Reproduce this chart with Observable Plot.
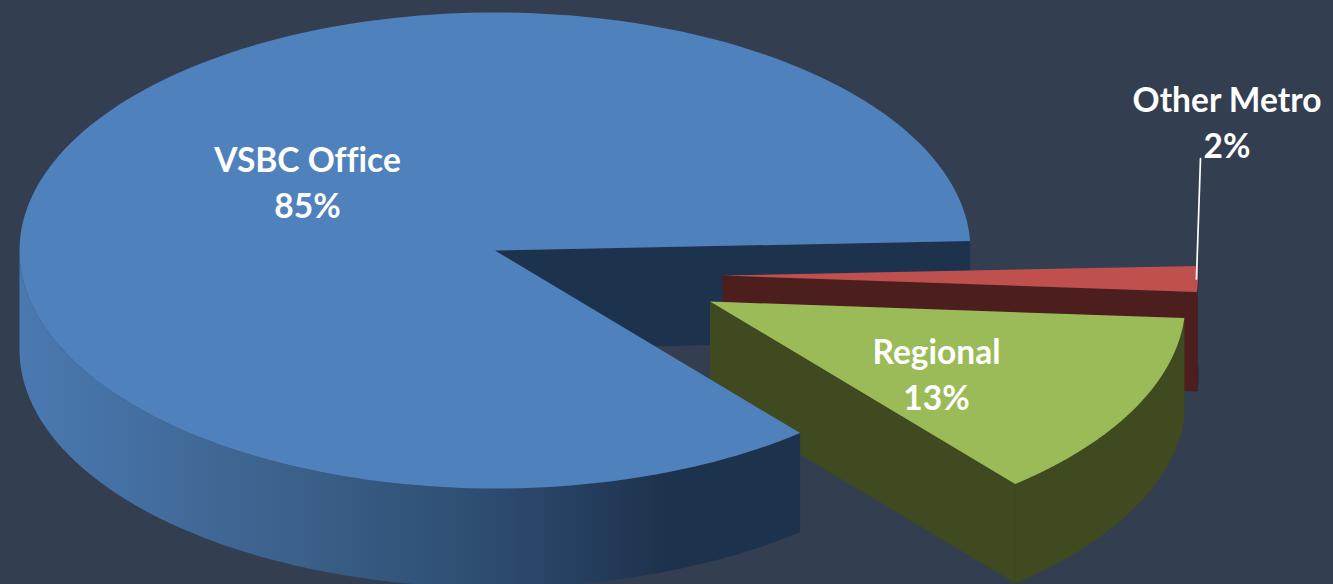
<!DOCTYPE html>
<html>
<head>
<meta charset="utf-8">
<script src="https://cdn.jsdelivr.net/npm/d3@7"></script>
<script src="https://cdn.jsdelivr.net/npm/@observablehq/plot@0.6"></script>
<style>
html,body{margin:0;padding:0;background:#333e50;overflow:hidden}
svg{display:block}
svg text{font-variant-ligatures:none}
</style>
</head>
<body>
<div id="chart"></div>
<script>
// Chart values, in drawing order clockwise from the leader slice
const categories = ["Other Metro", "Regional", "VSBC Office"];
const shares = [1.75, 12.8, 85.45];
const topColors = ["#c0504d", "#9bbb59", "#4f81bd"];
const wallColors = ["#4d1e1e", "#3f4a20", "#1d324d"];

// Scene layout of the tilted pie
const W = 1333, H = 584;
const rx = 475.5, ry = 238, depth = 99;
const startAngle = -2.3;
const centers = [[722, 275], [709.5, 301], [494.5, 250]];
const labelPlace = [[1226.5, 120], [936, 372], [307, 180]];

const angles = [];
{
  let a = startAngle;
  for (const s of shares) { angles.push([a, a + s * 3.6]); a += s * 3.6; }
}
const rad = d => d * Math.PI / 180;
const rim = (c, deg, drop = 0) => ({x: c[0] + rx * Math.cos(rad(deg)), y: c[1] + ry * Math.sin(rad(deg)) + drop});
const arc = (c, a0, a1, drop = 0) => d3.range(0, 1.0001, 1 / 200).map(t => rim(c, a0 + (a1 - a0) * t, drop));
const low = (c) => ({x: c[0], y: c[1] + depth});
const high = (c) => ({x: c[0], y: c[1]});

const topFace = i => [high(centers[i]), ...arc(centers[i], angles[i][0], angles[i][1])];
// The outer side and the cut wall of one slice form a single outline, so no seam shows between them
const sliceBody = i => [high(centers[i]), ...arc(centers[i], angles[i][0], angles[i][1]),
  ...arc(centers[i], angles[i][0], angles[i][1], depth).reverse().slice(0, 201),
  rim(centers[i], angles[i][0], depth), rim(centers[i], angles[i][0])];
const outerSide = (i, a0, a1) => [...arc(centers[i], a0, a1), ...arc(centers[i], a0, a1, depth).reverse()];
const cutWall = (i, deg) => [high(centers[i]), rim(centers[i], deg), rim(centers[i], deg, depth), low(centers[i])];
const poly = (pts, fill) => Plot.line(pts, {x: "x", y: "y", fill, stroke: "none"});
const solid = (pts, color) => Plot.line(pts, {x: "x", y: "y", fill: color, stroke: color, strokeWidth: 0.6});

const gradientStops = [["0%", "#4a79b2"], ["36%", "#3b6089"], ["62%", "#2c4a6f"], ["83%", "#1d324c"], ["100%", "#1d324c"]];
const defs = () => {
  const s = d3.create("svg:defs");
  const g = s.append("linearGradient").attr("id", "blueSide").attr("x1", 0).attr("x2", 1).attr("y1", 0).attr("y2", 0);
  for (const [o, c] of gradientStops) g.append("stop").attr("offset", o).attr("stop-color", c);
  return s.node();
};

const [R, G, B] = [0, 1, 2];
const labels = categories.map((name, i) => ({
  text: `${name}\n${Math.round(shares[i])}%`,
  x: labelPlace[i][0], y: labelPlace[i][1]
}));
const redMid = (angles[R][0] + angles[R][1]) / 2;
const leaderFoot = rim(centers[R], redMid);
const leader = [{x: leaderFoot.x - 1.5, y: leaderFoot.y}, {x: 1200, y: 158}];

const chart = Plot.plot({
  width: W, height: H,
  margin: 0,
  x: {domain: [0, W], range: [0, W], axis: null},
  y: {domain: [0, H], range: [0, H], axis: null},
  style: {background: "transparent"},
  marks: [
    defs,
    // blue cut wall behind the detached slices
    poly(cutWall(B, angles[B][1]), wallColors[B]),
    // red slice
    solid(outerSide(R, angles[R][0], angles[R][1]), wallColors[R]),
    solid(cutWall(R, angles[R][1]), wallColors[R]),
    poly(topFace(R), topColors[R]),
    // green slice
    solid(outerSide(G, angles[G][0], angles[G][1]), wallColors[G]),
    solid(cutWall(G, angles[G][1]), wallColors[G]),
    poly(topFace(G), topColors[G]),
    // blue body
    poly(outerSide(B, angles[B][0], 180), "url(#blueSide)"),
    poly(topFace(B), topColors[B]),
    // leader and labels
    Plot.line(leader, {x: "x", y: "y", stroke: "white", strokeWidth: 1.7}),
    Plot.text(labels, {
      x: "x", y: "y", text: "text",
      fill: "white", fontSize: 33.5, fontWeight: 700,
      fontFamily: "Lato, 'Open Sans', sans-serif",
      lineHeight: 1.37, textAnchor: "middle"
    })
  ]
});
document.getElementById("chart").appendChild(chart);
</script>
</body>
</html>
